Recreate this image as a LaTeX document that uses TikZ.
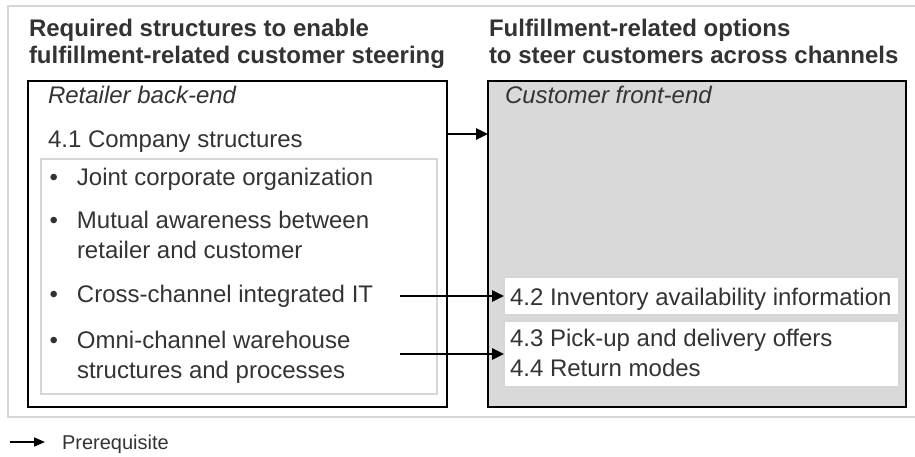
\documentclass[tikz,border=0pt]{standalone}
\usepackage{fontspec}
\setmainfont{Liberation Sans}
\usetikzlibrary{arrows.meta}
\definecolor{txt}{HTML}{333333}
\definecolor{framegray}{HTML}{D6D6D6}
\definecolor{fillgray}{HTML}{D9D9D9}
\begin{document}
\begin{tikzpicture}[x=1pt,y=-1pt,
  box/.style={draw, inner sep=0pt, outer sep=0pt, anchor=north west},
  lbl/.style={anchor=base west, inner sep=0pt, outer sep=0pt, text=txt, font=\fontsize{24}{29.5}\selectfont, align=left},
  ttl/.style={anchor=base west, inner sep=0pt, outer sep=0pt, text=txt, font=\bfseries\fontsize{24}{26.5}\selectfont, align=left},
  arr/.style={line width=2.6pt, -{Triangle[length=12pt,width=11pt]}},
  legarr/.style={line width=1.6pt, -{Triangle[length=11pt,width=9pt]}}
]
\useasboundingbox (0,0) rectangle (915,456);
% outer light frame
\node[box, draw=framegray, line width=1.5pt, minimum width=912pt, minimum height=411pt] (frame) at (8,6) {};
% titles (anchor = baseline of last line)
\node[ttl] (t1) at (29,63) {Required structures to enable\\fulfillment-related customer steering};
\node[ttl] (t2) at (489,63) {Fulfillment-related options\\to steer customers across channels};
% main boxes
\node[box, line width=1.4pt, minimum width=419pt, minimum height=326pt] (left) at (28,81) {};
\node[box, line width=1.4pt, fill=fillgray, minimum width=418pt, minimum height=326pt] (right) at (488,81) {};
\node[lbl, font=\itshape\fontsize{24}{29.5}\selectfont] (rb) at (48,103) {Retailer back-end};
\node[lbl, font=\itshape\fontsize{24}{29.5}\selectfont] (cf) at (505,103) {Customer front-end};
\node[lbl] (cs) at (48,147) {4.1 Company structures};
% inner list box
\node[box, draw=framegray, line width=1.4pt, minimum width=396pt, minimum height=235pt] (list) at (41,159) {};
\node[lbl] (i1) at (77,185) {\llap{•\hspace{19pt}}Joint corporate organization};
\node[lbl] (i2) at (77,258) {\llap{•\hspace{19pt}}Mutual awareness between\\retailer and customer};
\node[lbl] (i3) at (77,302) {\llap{•\hspace{19pt}}Cross-channel integrated IT};
\node[lbl] (i4) at (77,378) {\llap{•\hspace{19pt}}Omni-channel warehouse\\structures and processes};
% white boxes
\node[box, draw=framegray, line width=1.4pt, fill=white, minimum width=395pt, minimum height=38pt] (b42) at (504,277) {};
\node[box, draw=framegray, line width=1.4pt, fill=white, minimum width=395pt, minimum height=66pt] (b43) at (504,321) {};
\node[lbl] (l42) at (510,305) {4.2 Inventory availability information};
\node[lbl] (l43) at (510,376) {4.3 Pick-up and delivery offers\\4.4 Return modes};
% arrows
\coordinate (a1s) at (447,134);
\coordinate (a1e) at (488,134);
\draw[arr] (a1s) -- (a1e);
\coordinate (a2s) at (400,296);
\draw[arr] (a2s) -- (b42.west);
\coordinate (a3s) at (400,354);
\draw[arr] (a3s) -- (b43.west);
% legend
\coordinate (lgs) at (10,442);
\coordinate (lge) at (45,442);
\draw[legarr] (lgs) -- (lge);
\node[lbl, font=\fontsize{20}{22}\selectfont] (leg) at (62,449) {Prerequisite};
\end{tikzpicture}
\end{document}
